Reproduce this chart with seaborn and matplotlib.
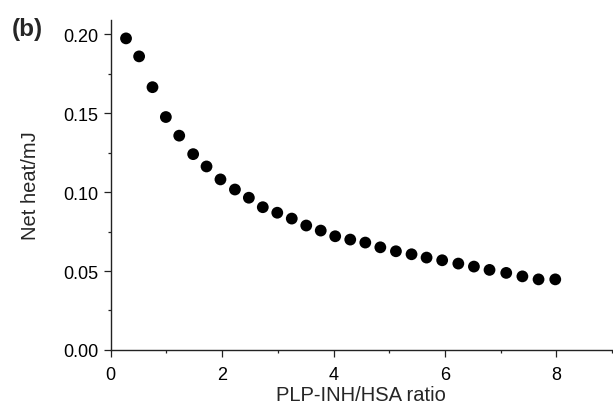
import matplotlib
matplotlib.use("Agg")
import matplotlib.pyplot as plt
import seaborn as sns
import pandas as pd
from matplotlib.ticker import MultipleLocator

ratio = [0.275, 0.51, 0.75, 0.99, 1.23, 1.48, 1.72, 1.97, 2.23, 2.48,
         2.73, 2.99, 3.25, 3.51, 3.77, 4.03, 4.30, 4.57, 4.84, 5.12,
         5.40, 5.67, 5.95, 6.24, 6.52, 6.80, 7.10, 7.39, 7.68, 7.98]
net_heat = [0.1973, 0.1859, 0.1664, 0.1475, 0.1357, 0.1240, 0.1162, 0.1080, 0.1016, 0.0964,
            0.0904, 0.0869, 0.0832, 0.0788, 0.0756, 0.0720, 0.0699, 0.0680, 0.0650, 0.0625,
            0.0606, 0.0585, 0.0568, 0.0547, 0.0528, 0.0507, 0.0488, 0.0466, 0.0447, 0.0447]
x_ticks = [0, 2, 4, 6, 8]
y_ticks = [0.00, 0.05, 0.10, 0.15, 0.20]
y_tick_labels = ["0.00", "0.05", "0.10", "0.15", "0.20"]

sns.set_style("ticks")
plt.rcParams['font.family'] = ['Liberation Sans', 'DejaVu Sans']

df = pd.DataFrame({"ratio": ratio, "heat": net_heat})

fig = plt.figure(figsize=(6.13, 4.10), dpi=100)
ax = fig.add_axes([0.1806, 0.1440, 0.8179, 0.8050])
sns.scatterplot(data=df, x="ratio", y="heat", ax=ax, color="black",
                edgecolor="none", s=72, linewidth=0, legend=False)

ax.set_xlim(0, 9)
ax.set_ylim(0, 0.209)
ax.set_xticks(x_ticks)
ax.set_xticklabels([str(v) for v in x_ticks])
ax.set_yticks(y_ticks)
ax.set_yticklabels(y_tick_labels)
ax.xaxis.set_minor_locator(MultipleLocator(1))
ax.yaxis.set_minor_locator(MultipleLocator(0.025))

for side in ["top", "right"]:
    ax.spines[side].set_visible(False)
for side in ["left", "bottom"]:
    ax.spines[side].set_linewidth(1.0)
    ax.spines[side].set_color("#222222")

ax.tick_params(which="major", direction="out", length=5, width=0.9,
               labelsize=13, pad=3.8, color="#222222", labelcolor="black")
ax.tick_params(axis="x", which="major", pad=6.5)
ax.tick_params(which="minor", direction="out", length=2.2, width=0.9, color="#222222")

ax.set_xlabel("PLP-INH/HSA ratio", fontsize=14.5, labelpad=1.3)
ax.set_ylabel("Net heat/mJ", fontsize=14.5, labelpad=17)

fig.text(0.019, 0.927, "(b)", fontsize=17.5, fontweight="bold", ha="left", va="center")

fig.savefig("out.png", dpi=100)
